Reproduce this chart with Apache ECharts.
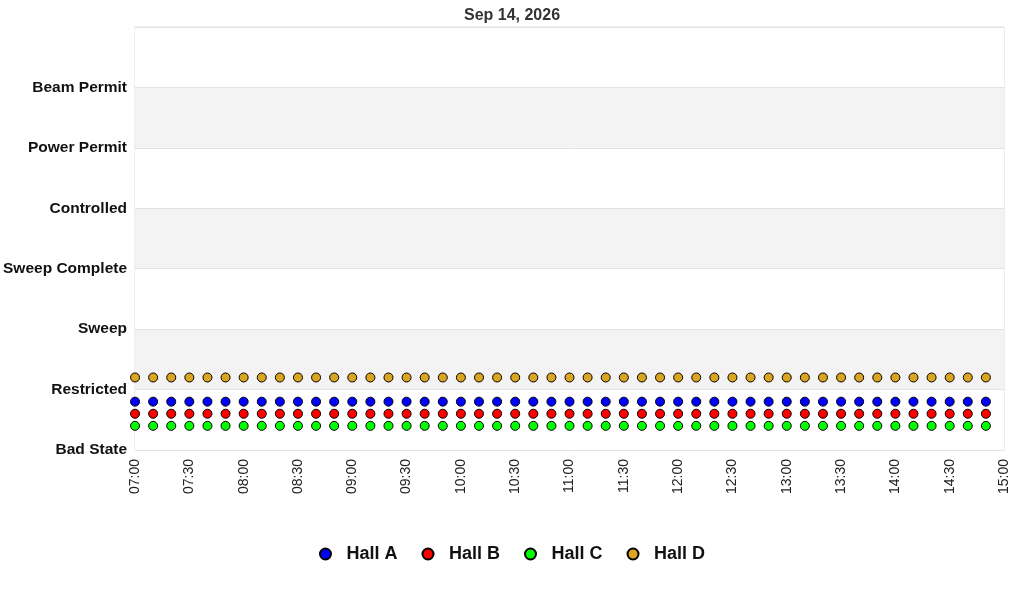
<!DOCTYPE html>
<html lang="en">
<head>
	<meta charset="UTF-8">
	<title>Hall States</title>
	<script src="https://cdn.jsdelivr.net/npm/echarts@6/dist/echarts.min.js"></script>
	<style>
		html, body { margin: 0; padding: 0; background: #fff; }
	</style>
</head>
<body>
	<div id="app" style="width: 1024px;height:600px"></div>

	<script>
		// state names, bottom to top
		var states = ["Bad State", "Restricted", "Sweep", "Sweep Complete", "Controlled", "Power Permit", "Beam Permit"];

		// sample times, every 10 minutes
		var times = [
			"07:00", "07:10", "07:20", "07:30", "07:40", "07:50",
			"08:00", "08:10", "08:20", "08:30", "08:40", "08:50",
			"09:00", "09:10", "09:20", "09:30", "09:40", "09:50",
			"10:00", "10:10", "10:20", "10:30", "10:40", "10:50",
			"11:00", "11:10", "11:20", "11:30", "11:40", "11:50",
			"12:00", "12:10", "12:20", "12:30", "12:40", "12:50",
			"13:00", "13:10", "13:20", "13:30", "13:40", "13:50",
			"14:00", "14:10", "14:20", "14:30", "14:40", "14:50"
		];

		// plotted values (state index, each hall drawn with a small offset)
		var hallA = [0.8, 0.8, 0.8, 0.8, 0.8, 0.8, 0.8, 0.8, 0.8, 0.8, 0.8, 0.8,
			0.8, 0.8, 0.8, 0.8, 0.8, 0.8, 0.8, 0.8, 0.8, 0.8, 0.8, 0.8,
			0.8, 0.8, 0.8, 0.8, 0.8, 0.8, 0.8, 0.8, 0.8, 0.8, 0.8, 0.8,
			0.8, 0.8, 0.8, 0.8, 0.8, 0.8, 0.8, 0.8, 0.8, 0.8, 0.8, 0.8];
		var hallB = [0.6, 0.6, 0.6, 0.6, 0.6, 0.6, 0.6, 0.6, 0.6, 0.6, 0.6, 0.6,
			0.6, 0.6, 0.6, 0.6, 0.6, 0.6, 0.6, 0.6, 0.6, 0.6, 0.6, 0.6,
			0.6, 0.6, 0.6, 0.6, 0.6, 0.6, 0.6, 0.6, 0.6, 0.6, 0.6, 0.6,
			0.6, 0.6, 0.6, 0.6, 0.6, 0.6, 0.6, 0.6, 0.6, 0.6, 0.6, 0.6];
		var hallC = [0.4, 0.4, 0.4, 0.4, 0.4, 0.4, 0.4, 0.4, 0.4, 0.4, 0.4, 0.4,
			0.4, 0.4, 0.4, 0.4, 0.4, 0.4, 0.4, 0.4, 0.4, 0.4, 0.4, 0.4,
			0.4, 0.4, 0.4, 0.4, 0.4, 0.4, 0.4, 0.4, 0.4, 0.4, 0.4, 0.4,
			0.4, 0.4, 0.4, 0.4, 0.4, 0.4, 0.4, 0.4, 0.4, 0.4, 0.4, 0.4];
		var hallD = [1.2, 1.2, 1.2, 1.2, 1.2, 1.2, 1.2, 1.2, 1.2, 1.2, 1.2, 1.2,
			1.2, 1.2, 1.2, 1.2, 1.2, 1.2, 1.2, 1.2, 1.2, 1.2, 1.2, 1.2,
			1.2, 1.2, 1.2, 1.2, 1.2, 1.2, 1.2, 1.2, 1.2, 1.2, 1.2, 1.2,
			1.2, 1.2, 1.2, 1.2, 1.2, 1.2, 1.2, 1.2, 1.2, 1.2, 1.2, 1.2];

		function toMin(t) {
			var p = t.split(":");
			return parseInt(p[0], 10) * 60 + parseInt(p[1], 10);
		}
		function fmtMin(v) {
			var h = Math.floor(v / 60), m = v % 60;
			return (h < 10 ? "0" : "") + h + ":" + (m < 10 ? "0" : "") + m;
		}
		function pairs(vals) {
			return times.map(function (t, i) { return [toMin(t), vals[i]]; });
		}
		function hall(name, color, vals) {
			return {
				name: name,
				type: "scatter",
				symbol: "circle",
				symbolSize: 9,
				itemStyle: { color: color, borderColor: "#000", borderWidth: 1, opacity: 1 },
				data: pairs(vals)
			};
		}

		var myChart = echarts.init(document.getElementById('app'));
		var option = {
			animation: false,
			backgroundColor: "#fff",
			textStyle: { fontFamily: "Liberation Sans, Arial, sans-serif" },
			title: {
				text: "Sep 14, 2026",
				left: "center",
				top: 3,
				textStyle: { fontSize: 16, fontWeight: "bold", color: "#333" }
			},
			legend: {
				bottom: 32,
				left: "center",
				itemWidth: 32,
				itemHeight: 11,
				itemGap: 24,
				icon: "circle",
				textStyle: { fontSize: 18, fontWeight: "bold", color: "#111" },
				data: ["Hall A", "Hall B", "Hall C", "Hall D"]
			},
			grid: {
				left: 135, right: 20, top: 27, bottom: 150,
				show: true, borderColor: "#dddddd", borderWidth: 1
			},
			xAxis: {
				type: "value",
				min: 420,
				max: 900,
				interval: 30,
				axisLine: { show: false },
				axisTick: { show: false },
				splitLine: { show: false },
				axisLabel: {
					rotate: 90,
					margin: 9,
					fontSize: 14,
					color: "#222",
					formatter: fmtMin
				}
			},
			yAxis: {
				type: "value",
				min: 0,
				max: 7,
				interval: 1,
				axisLine: { show: false },
				axisTick: { show: false },
				splitLine: { show: true, lineStyle: { color: "#e2e2e2" } },
				splitArea: { show: true, areaStyle: { color: ["#ffffff", "#f3f3f3"] } },
				axisLabel: {
					margin: 8,
					fontSize: 15.5,
					fontWeight: "bold",
					color: "#111",
					formatter: function (v) { return states[v] || ""; }
				}
			},
			series: [
				hall("Hall A", "#0000ff", hallA),
				hall("Hall B", "#ff0000", hallB),
				hall("Hall C", "#00ff00", hallC),
				hall("Hall D", "#daa520", hallD)
			]
		};
		myChart.setOption(option);
	</script>
</body>
</html>
